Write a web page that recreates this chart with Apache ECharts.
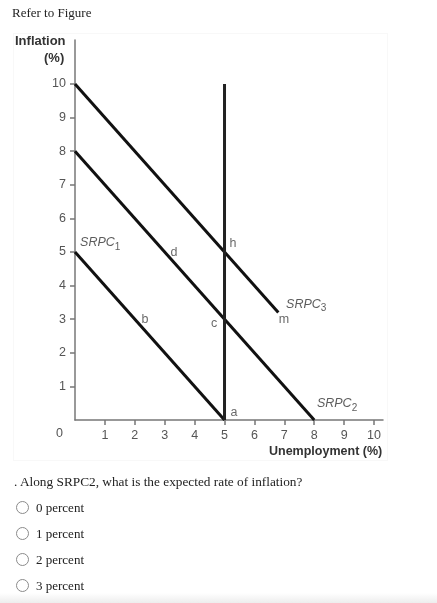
<!DOCTYPE html>
<html>
<head>
<meta charset="utf-8">
<script src="https://cdn.jsdelivr.net/npm/echarts@6/dist/echarts.min.js"></script>
<style>
  html, body { margin: 0; padding: 0; background: #fff; }
  body { width: 437px; height: 603px; position: relative; overflow: hidden; font-family: "Liberation Serif", "Times New Roman", serif; color: #222; }
  #chart { position: absolute; left: 0; top: 0; width: 437px; height: 603px; }
  .frame { position: absolute; left: 13px; top: 33px; width: 373px; height: 426px; border: 1px solid #f8f8f8; }
  .shade { position: absolute; left: 0; bottom: 0; width: 437px; height: 10px; background: linear-gradient(#fff, #ededed); }
  .head { position: absolute; left: 12px; top: 5px; font-size: 13px; }
  .question { position: absolute; left: 14px; top: 474px; font-size: 13.3px; }
  .opt { position: absolute; left: 16px; font-size: 13px; }
  .opt i { display: inline-block; width: 11px; height: 11px; border: 1px solid #8a8a8a; border-radius: 50%; vertical-align: -2px; margin-right: 7px; background: #fff; }
</style>
</head>
<body>
<div class="frame"></div>
<div class="shade"></div>
<div id="chart"></div>
<div class="head">Refer to Figure</div>
<div class="question">. Along SRPC2, what is the expected rate of inflation?</div>
<div class="opt" style="top:500px"><i></i>0 percent</div>
<div class="opt" style="top:526px"><i></i>1 percent</div>
<div class="opt" style="top:552px"><i></i>2 percent</div>
<div class="opt" style="top:578px"><i></i>3 percent</div>
<script>
// 坐标轴刻度
const xTicks = [1, 2, 3, 4, 5, 6, 7, 8, 9, 10];
const yTicks = [1, 2, 3, 4, 5, 6, 7, 8, 9, 10];

// 各条曲线 [失业率, 通胀率]
const srpc1 = [[0, 5], [5, 0]];
const srpc2 = [[0, 8], [8, 0]];
const srpc3 = [[0, 10], [6.8, 3.2]];
const lrpc = [[5, 0], [5, 10]];

// 图中标注文字及其位置
const pointNames = ["d", "h", "b", "c", "m", "a"];
const pointAt = [[3.31, 4.97], [5.28, 5.24], [2.34, 2.98], [4.65, 2.86], [6.99, 2.98], [5.32, 0.21]];
const curveNames = ["SRPC{s|1}", "SRPC{s|2}", "SRPC{s|3}"];
const curveAt = [[0.17, 5.27], [8.09, 0.48], [7.06, 3.45]];

const chartInstance = echarts.init(document.getElementById("chart"));

const axisGray = "#777";
const textGray = "#555";
const font = "Liberation Sans";

const lineStyle = { color: "#111", width: 3 };

function lineSeries(data) {
  return {
    type: "line",
    data: data,
    symbol: "none",
    lineStyle: lineStyle,
    silent: true,
  };
}

const option = {
  animation: false,
  grid: { left: 75, top: 40, width: 308, height: 380 },
  xAxis: {
    type: "value",
    min: 0,
    max: 10.3,
    splitLine: { show: false },
    axisLine: { lineStyle: { color: axisGray, width: 1.5 } },
    axisTick: { customValues: xTicks, length: 5, lineStyle: { color: axisGray, width: 1.5 } },
    axisLabel: { customValues: xTicks, margin: 9, color: textGray, fontSize: 12.5, fontFamily: font },
  },
  yAxis: {
    type: "value",
    min: 0,
    max: 11.31,
    splitLine: { show: false },
    axisLine: { lineStyle: { color: axisGray, width: 1.5 } },
    axisTick: { customValues: yTicks, length: 5, lineStyle: { color: axisGray, width: 1.5 } },
    axisLabel: { customValues: yTicks, margin: 9, color: textGray, fontSize: 12.5, fontFamily: font },
  },
  graphic: [
    { type: "text", left: 15, top: 35, style: { text: "Inflation", font: "bold 13px " + font, fill: "#333" } },
    { type: "text", left: 44, top: 52, style: { text: "(%)", font: "bold 13px " + font, fill: "#333" } },
    { type: "text", left: 56, top: 427, style: { text: "0", font: "12.5px " + font, fill: textGray } },
    { type: "text", left: 269, top: 445, style: { text: "Unemployment (%)", font: "bold 12.5px " + font, fill: "#333" } },
  ],
  series: [
    lineSeries(srpc1),
    lineSeries(srpc2),
    lineSeries(srpc3),
    {
      type: "line",
      data: lrpc,
      symbol: "none",
      lineStyle: { color: "#222", width: 3 },
      silent: true,
      markPoint: {
        symbol: "none",
        data: [{ coord: [5, 10.24], value: "LRPC" }],
        label: { show: true, formatter: "LRPC", color: "#333", fontStyle: "italic", fontSize: 12.5, fontFamily: font },
      },
    },
    {
      type: "scatter",
      symbolSize: 0,
      silent: true,
      data: pointAt.map((p, i) => ({ value: p, name: pointNames[i] })),
      label: {
        show: true,
        position: "inside",
        formatter: (p) => p.name,
        color: "#444",
        fontSize: 12.5,
        fontFamily: font,
      },
    },
    {
      type: "scatter",
      symbolSize: 0,
      silent: true,
      data: curveAt.map((p, i) => ({ value: p, name: curveNames[i] })),
      label: {
        show: true,
        position: "right",
        distance: 0,
        formatter: (p) => p.name,
        color: "#333",
        fontStyle: "italic",
        fontSize: 12.5,
        fontFamily: font,
        rich: {
          s: { fontSize: 10, fontStyle: "normal", verticalAlign: "bottom", padding: [9, 0, 0, 0], color: "#333", fontFamily: font },
        },
      },
    },
  ],
};

chartInstance.setOption(option);
</script>
</body>
</html>
